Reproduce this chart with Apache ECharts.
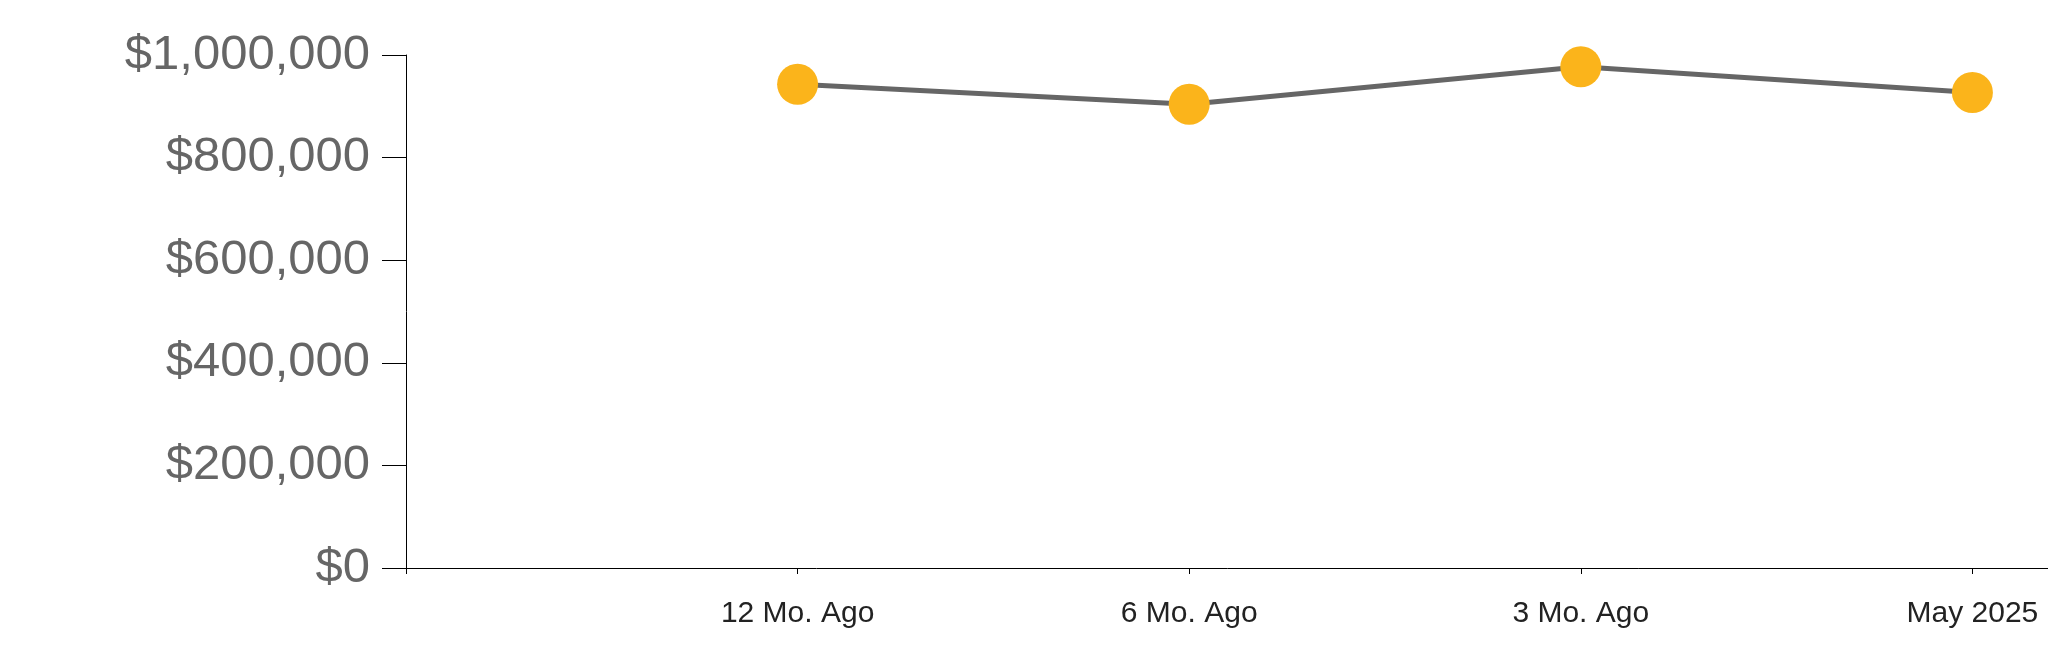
<!DOCTYPE html>
<html>
<head>
<meta charset="utf-8">
<script src="https://cdn.jsdelivr.net/npm/echarts@6/dist/echarts.min.js"></script>
<style>
  html, body { margin: 0; padding: 0; background: #fff; }
  #chart { width: 2048px; height: 663px; }
</style>
</head>
<body>
<div id="chart"></div>
<script>
// first slot is empty, the axis starts one step before "12 Mo. Ago"
const categories = ['', '12 Mo. Ago', '6 Mo. Ago', '3 Mo. Ago', 'May 2025', ''];
const prices = [null, 943000, 904000, 977000, 927000, null];
const yTicks = { min: 0, max: 1000000, interval: 200000 };

const myChart = echarts.init(document.getElementById('chart'));

const option = {
  animation: false,
  textStyle: {
    fontFamily: '"Liberation Sans", Arial, sans-serif'
  },
  grid: {
    left: 406,
    top: 55,
    bottom: 95,
    right: -316,   // runs past the right edge, last step is cut off
    outerBoundsMode: 'none'
  },
  xAxis: {
    type: 'category',
    boundaryGap: false,
    data: categories,
    axisLine: { lineStyle: { color: '#000', width: 1 } },
    axisTick: { length: 6, lineStyle: { color: '#000' } },
    axisLabel: {
      color: '#222',
      fontSize: 30,
      margin: 31,
      interval: 0
    },
    splitLine: { show: false }
  },
  yAxis: {
    type: 'value',
    min: yTicks.min,
    max: yTicks.max,
    interval: yTicks.interval,
    axisLine: { show: true, lineStyle: { color: '#000', width: 1 } },
    axisTick: { show: true, length: 24, lineStyle: { color: '#000' } },
    axisLabel: {
      color: '#666',
      fontSize: 49,
      margin: 36,
      formatter: function (v) {
        return '$' + v.toLocaleString('en-US');
      }
    },
    splitLine: { show: false }
  },
  series: [
    {
      type: 'line',
      data: prices,
      connectNulls: false,
      symbol: 'circle',
      symbolSize: 41,
      itemStyle: { color: '#FBB41B' },
      lineStyle: { color: '#666', width: 5 },
      z: 3
    }
  ]
};

myChart.setOption(option);
</script>
</body>
</html>
